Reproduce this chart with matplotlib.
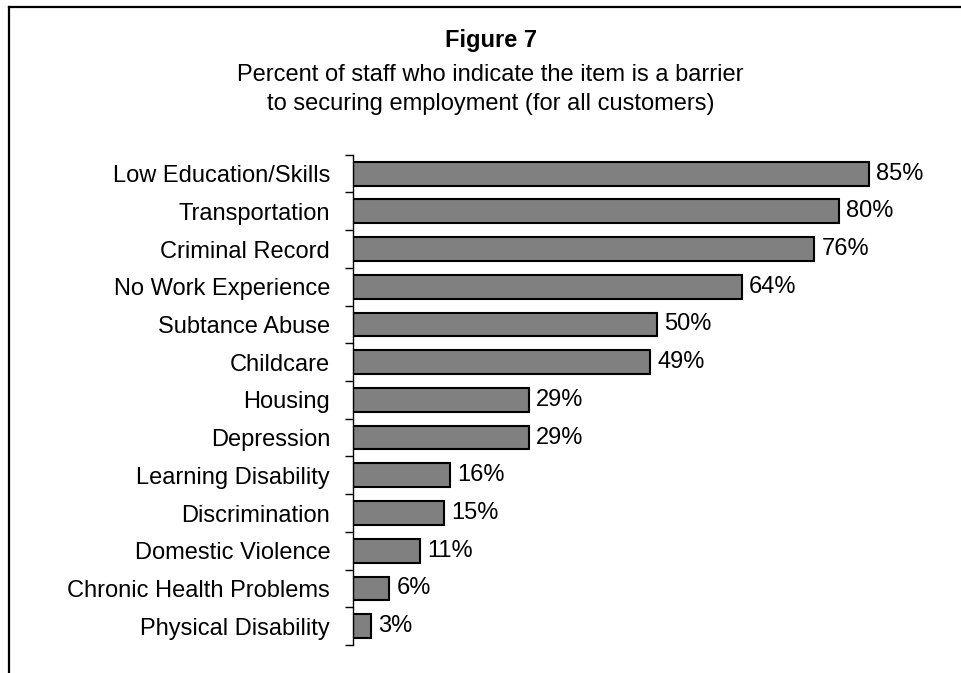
import numpy as np
import matplotlib.pyplot as plt
from matplotlib.lines import Line2D

plt.rcParams['font.family'] = ['Liberation Sans', 'DejaVu Sans']

# Barriers to employment, percent of staff
barriers = [
    "Low Education/Skills",
    "Transportation",
    "Criminal Record",
    "No Work Experience",
    "Subtance Abuse",
    "Childcare",
    "Housing",
    "Depression",
    "Learning Disability",
    "Discrimination",
    "Domestic Violence",
    "Chronic Health Problems",
    "Physical Disability",
]
percents = [85, 80, 76, 64, 50, 49, 29, 29, 16, 15, 11, 6, 3]

FS = 17

fig = plt.figure(figsize=(9.62, 6.73), dpi=100)
ax = fig.add_axes([0.367, 0.0416, 0.631, 0.7284])

y = np.arange(len(barriers))
ax.barh(y, percents, height=0.63, color='#808080', edgecolor='black', linewidth=1.5)

for yi, v in zip(y, percents):
    ax.text(v + 1.2, yi, f"{v}%", va='center', ha='left', fontsize=FS)

ax.set_xlim(0, 100)
ax.set_ylim(len(barriers) - 0.5, -0.5)

# category labels at centres, tick marks at the boundaries
ax.set_yticks(y)
ax.set_yticklabels(barriers, fontsize=FS)
ax.tick_params(axis='y', which='major', length=0, pad=16.5)
ax.set_yticks(np.arange(len(barriers) + 1) - 0.5, minor=True)
ax.tick_params(axis='y', which='minor', length=6, width=1, direction='out')

ax.set_xticks([])
for side in ['top', 'right', 'bottom']:
    ax.spines[side].set_visible(False)
ax.spines['left'].set_linewidth(1)

# titles
fig.text(0.51, 1 - 41 / 673, "Figure 7", ha='center', va='center',
         fontsize=17, fontweight='bold')
fig.text(0.51, 1 - 75 / 673, "Percent of staff who indicate the item is a barrier",
         ha='center', va='center', fontsize=FS)
fig.text(0.51, 1 - 104 / 673, "to securing employment (for all customers)",
         ha='center', va='center', fontsize=FS)

# outer frame (top and left edges)
fig.add_artist(Line2D([8.5 / 962, 1], [1 - 6.5 / 673, 1 - 6.5 / 673],
                      transform=fig.transFigure, color='black', linewidth=1.6))
fig.add_artist(Line2D([8.5 / 962, 8.5 / 962], [1 - 6.5 / 673, 0],
                      transform=fig.transFigure, color='black', linewidth=1.6))

fig.savefig("out.png", dpi=100)
